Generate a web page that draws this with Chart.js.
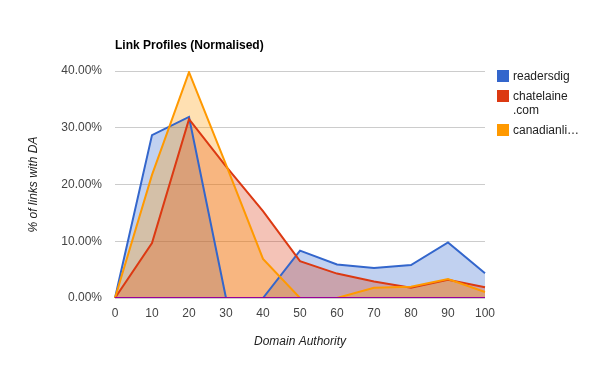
<!DOCTYPE html>
<html>
<head>
<meta charset="utf-8">
<script src="https://cdn.jsdelivr.net/npm/chart.js@4"></script>
<style>
  body { margin: 0; background: #fff; font-family: "Liberation Sans", Arial, sans-serif; }
  #wrap { position: relative; width: 600px; height: 370px; }
  #title { position: absolute; left: 115px; top: 38px; font-size: 12px; font-weight: bold; color: #000; }
  #legend { position: absolute; left: 497px; top: 69px; font-size: 12px; color: #222; }
  .item { position: relative; padding-left: 16px; line-height: 14px; margin-bottom: 6px; }
  .sw { position: absolute; left: 0; top: 1px; width: 12px; height: 12px; }
</style>
</head>
<body>
<div id="wrap">
  <canvas id="chart" width="600" height="370"></canvas>
  <div id="title">Link Profiles (Normalised)</div>
  <div id="legend"></div>
</div>
<script>
const categories = ['0', '10', '20', '30', '40', '50', '60', '70', '80', '90', '100'];
const seriesNames = ['readersdig', 'chatelaine.com', 'canadianli…'];
const readersdig = [0, 28.7, 31.9, 0, 0, 8.35, 5.9, 5.3, 5.8, 9.8, 4.35];
const chatelaine = [0, 9.7, 31.5, 23.2, 15.3, 6.5, 4.3, 2.9, 1.8, 3.2, 1.9];
const canadian = [0, 21.7, 39.8, 23.5, 6.9, 0, 0, 1.8, 2.0, 3.35, 1.05];
const baseline = [0, 0, 0, 0, 0, 0, 0, 0, 0, 0, 0];
const yTicks = [0, 10, 20, 30, 40];
const colors = ['#3366cc', '#dc3912', '#ff9900'];

function area(label, data, color, order) {
  return {
    label: label,
    data: data,
    borderColor: color,
    backgroundColor: color + '4d',
    borderWidth: 2,
    fill: 'origin',
    tension: 0,
    pointRadius: 0,
    order: order
  };
}

const ctx = document.getElementById('chart').getContext('2d');
new Chart(ctx, {
  type: 'line',
  data: {
    labels: categories,
    datasets: [
      area(seriesNames[0], readersdig, colors[0], 3),
      area(seriesNames[1], chatelaine, colors[1], 2),
      area(seriesNames[2], canadian, colors[2], 1),
      { label: 'base', data: baseline, borderColor: '#990099', borderWidth: 2, fill: false, pointRadius: 0, order: 0 }
    ]
  },
  options: {
    responsive: false,
    animation: false,
    layout: { padding: { left: 0, right: 115, top: 71, bottom: 0 } },
    plugins: {
      legend: { display: false },
      tooltip: { enabled: false },
      filler: { drawTime: 'beforeDatasetsDraw' }
    },
    scales: {
      x: {
        offset: false,
        grid: { display: false, drawTicks: false },
        border: { display: false },
        ticks: { color: '#444', font: { family: 'Liberation Sans', size: 12 }, padding: 8, maxRotation: 0 },
        title: { display: true, text: 'Domain Authority', color: '#222', font: { family: 'Liberation Sans', size: 12, style: 'italic' }, padding: { top: 4, bottom: 21 } },
        afterFit: s => { s.height = 72; }
      },
      y: {
        min: 0,
        max: 40,
        afterBuildTicks: s => { s.ticks = yTicks.map(v => ({ value: v })); },
        grid: { color: '#cccccc', drawTicks: false },
        border: { display: false },
        ticks: { color: '#444', font: { family: 'Liberation Sans', size: 12 }, padding: 13, callback: v => v.toFixed(2) + '%' },
        title: { display: true, text: '% of links with DA', color: '#222', font: { family: 'Liberation Sans', size: 12, style: 'italic' }, padding: { bottom: 0, top: 26 } },
        afterFit: s => { s.width = 115; }
      }
    }
  }
});

const legend = document.getElementById('legend');
const legendLines = [['readersdig'], ['chatelaine', '.com'], ['canadianli…']];
legendLines.forEach((lines, i) => {
  const d = document.createElement('div');
  d.className = 'item';
  d.innerHTML = '<span class="sw" style="background:' + colors[i] + '"></span>' + lines.join('<br>');
  legend.appendChild(d);
});
</script>
</body>
</html>
